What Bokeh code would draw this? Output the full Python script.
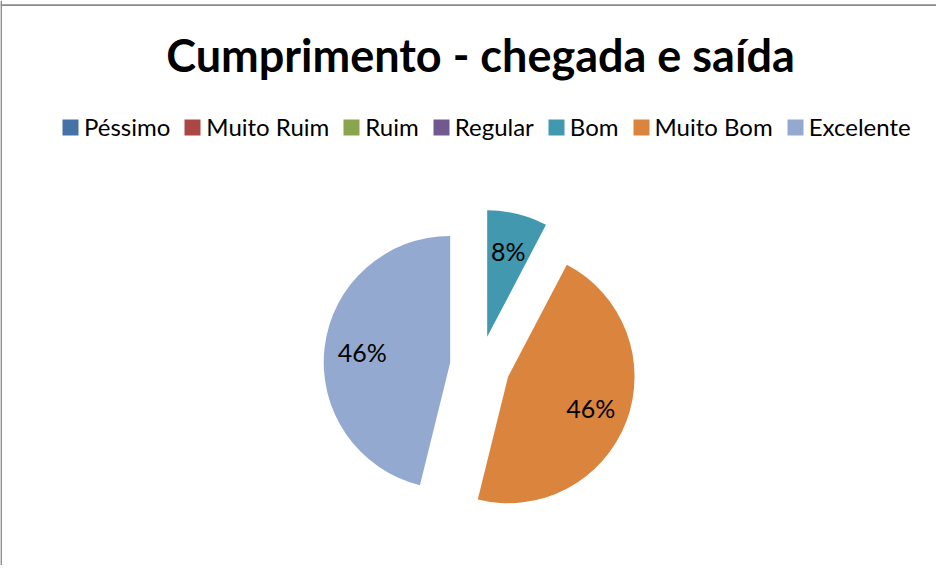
import math
from bokeh.plotting import figure
from bokeh.models import ColumnDataSource, Range1d, Label, Span, Legend, LegendItem
from bokeh.core.properties import value
from bokeh.embed import file_html
from bokeh.resources import INLINE

# ---- data ----
title_text = "Cumprimento - chegada e saída"
categories = ["Péssimo", "Muito Ruim", "Ruim", "Regular", "Bom", "Muito Bom", "Excelente"]
counts = [0, 0, 0, 0, 1, 6, 6]
colors = ["#4572A7", "#AA4643", "#89A54E", "#71588F", "#4198AF", "#DB843D", "#93A9CF"]

# ---- layout (figure pixel coordinates, y up) ----
W, H = 936, 565
def fx(px):
    return px - 8
def fy(py):
    return (H + 8) - py

cx, cy = fx(487.5), fy(373.5)
R = 126.5
EXPLODE = 30.0
LABEL_FRAC = 0.70

total = float(sum(counts))
xs, ys, starts, ends, radii, lx, ly, ltxt = [], [], [], [], [], [], [], []
cum = 0.0
for i, c in enumerate(counts):
    f0 = cum / total
    cum += c
    f1 = cum / total
    # Excel: start at 12 o'clock, clockwise
    a_start = math.radians(90 - 360 * f1)
    a_end = math.radians(90 - 360 * f0)
    mid = (a_start + a_end) / 2
    ox = cx + EXPLODE * math.cos(mid)
    oy = cy + EXPLODE * math.sin(mid)
    xs.append(ox); ys.append(oy); starts.append(a_start); ends.append(a_end)
    radii.append(R if c > 0 else 0.0)
    if c > 0:
        lx.append(ox + LABEL_FRAC * R * math.cos(mid))
        ly.append(oy + LABEL_FRAC * R * math.sin(mid))
        ltxt.append(f"{round(100 * c / total):.0f}%")

src = ColumnDataSource(dict(x=xs, y=ys, start=starts, end=ends, rad=radii,
                            cat=categories, color=colors))
lsrc = ColumnDataSource(dict(x=lx, y=ly, t=ltxt))

p = figure(width=W, height=H, output_backend="svg", toolbar_location=None,
           x_range=Range1d(0, W), y_range=Range1d(0, H),
           x_axis_location=None, y_axis_location=None, min_border=0,
           background_fill_color="white", border_fill_color="white")
p.grid.visible = False
p.outline_line_color = None

r = p.wedge(x="x", y="y", radius="rad", start_angle="start", end_angle="end",
            fill_color="color", line_color=None, source=src)

p.text(x="x", y="y", text="t", source=lsrc, text_align="center",
       text_baseline="middle", text_font=value("Lato"),
       text_font_size="25px", text_color="black")

p.add_layout(Label(x=fx(488), y=fy(62), text=title_text, text_align="center",
                   text_baseline="alphabetic", text_font="Lato",
                   text_font_style="bold", text_font_size="45px",
                   text_color="black"))

legend = Legend(items=[LegendItem(label=c, renderers=[r], index=i)
                       for i, c in enumerate(categories)],
                orientation="horizontal", location=(fx(68), fy(149)),
                glyph_width=20, glyph_height=20, label_standoff=4,
                spacing=12, padding=0, margin=0,
                label_text_font="Lato", label_text_font_size="24px",
                label_text_color="black",
                background_fill_alpha=0, border_line_color=None)
p.add_layout(legend, "center")

p.add_layout(Span(location=fy(12.6), dimension="width",
                  line_color="#8a8a8a", line_width=1.7))
p.add_layout(Span(location=fx(8.6), dimension="height",
                  line_color="#8a8a8a", line_width=1.7))

open("out.html", "w").write(file_html(p, INLINE))
